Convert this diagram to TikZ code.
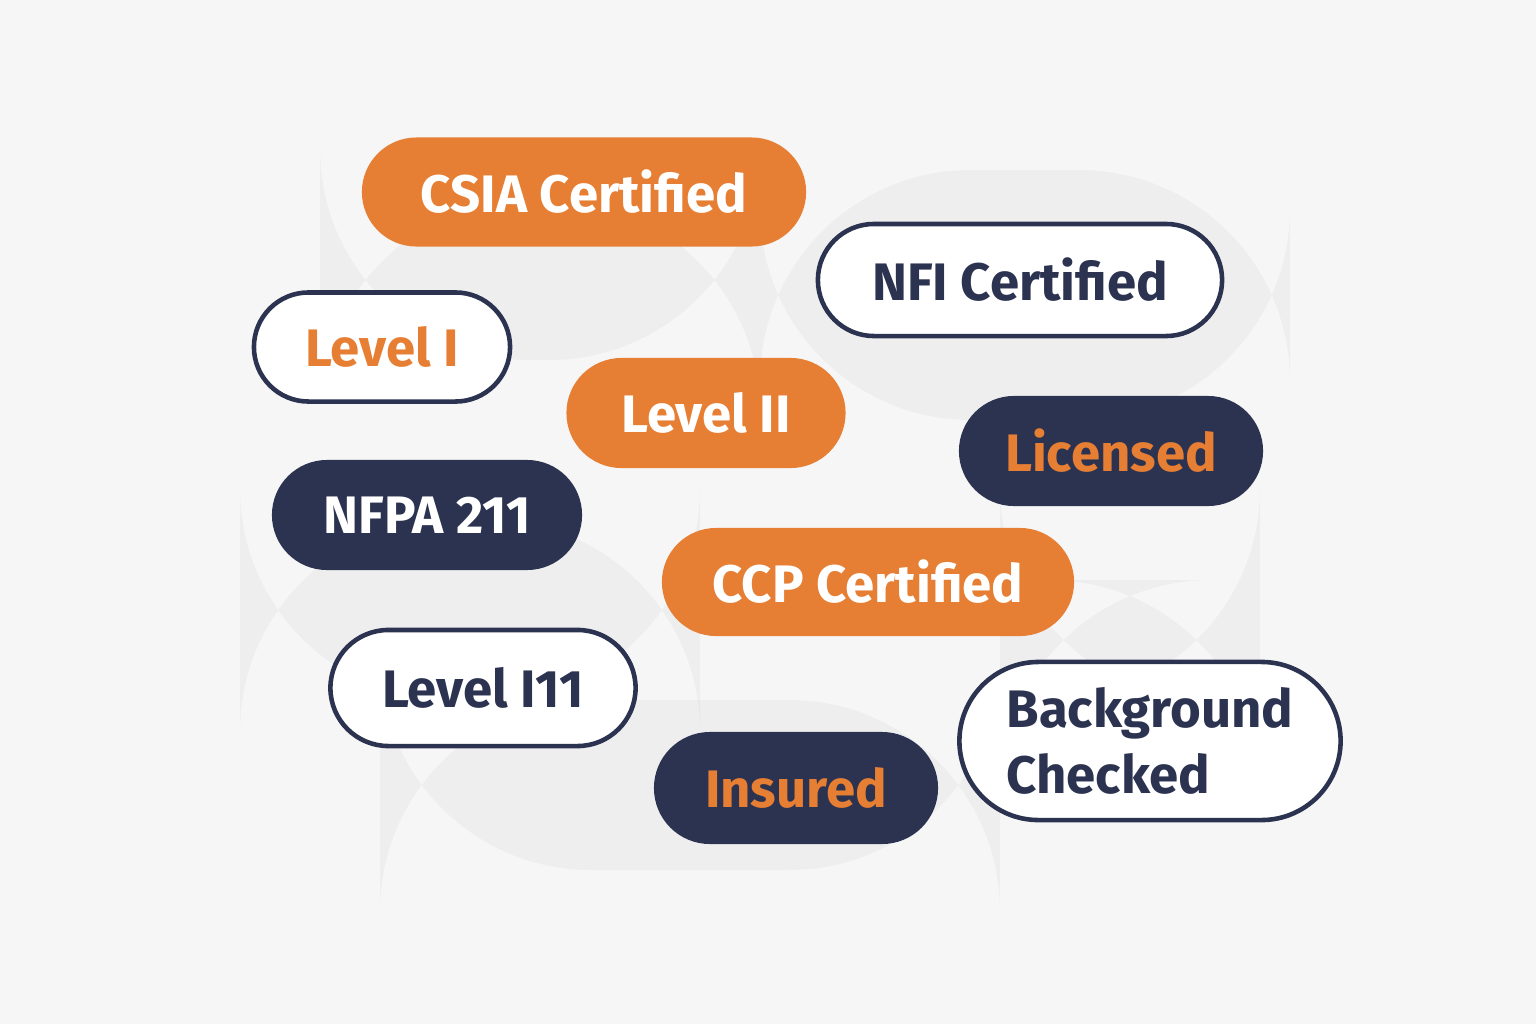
\documentclass[tikz,border=0pt]{standalone}
\usepackage{fontspec}
\setmainfont{Fira Sans}
\usetikzlibrary{shapes.misc}
\definecolor{badgeorange}{HTML}{E67E33}
\definecolor{badgedark}{HTML}{2B3350}
\definecolor{paper}{HTML}{F7F6F6}

\begin{document}
\begin{tikzpicture}[
    x = 0.01cm, y = -0.01cm,
    pill/.style = {rounded rectangle, inner sep = 0pt, font = \fontsize{15}{19}\selectfont\bfseries},
    orangepill/.style = {pill, fill = badgeorange, text = white},
    darkpill/.style = {pill, fill = badgedark},
    openpill/.style = {pill, fill = white, draw = badgedark, line width = 1.3pt, text = badgedark},
    shade/.style = {fill = badgedark, opacity = 0.04}
    ]
    \useasboundingbox[fill = paper] (0,0) rectangle (1536,1024);

    % soft shadows behind the badges
    \fill[shade, rounded corners = 60] (320,200) rectangle (760,360);
    \fill[shade, rounded corners = 60] (760,170) rectangle (1290,420);
    \fill[shade, rounded corners = 60] (240,520) rectangle (700,700);
    \fill[shade, rounded corners = 60] (380,700) rectangle (1000,870);
    \fill[shade, rounded corners = 60] (1000,580) rectangle (1260,700);

    \node (csia) at (584,192) [orangepill, minimum width = 4.44cm, minimum height = 1.09cm] {CSIA Certified};
    \node (nfi) at (1020,280) [openpill, minimum width = 4.04cm, minimum height = 1.12cm] {NFI Certified};
    \node (lvl1) at (382,347) [openpill, text = badgeorange, minimum width = 2.56cm, minimum height = 1.09cm] {Level I};
    \node (lvl2) at (706,413) [orangepill, minimum width = 2.79cm, minimum height = 1.1cm] {Level II};
    \node (licensed) at (1111,451) [darkpill, text = badgeorange, minimum width = 3.04cm, minimum height = 1.1cm] {Licensed};
    \node (nfpa) at (427,515) [darkpill, text = white, minimum width = 3.1cm, minimum height = 1.1cm] {NFPA 211};
    \node (ccp) at (868,582) [orangepill, minimum width = 4.12cm, minimum height = 1.08cm] {CCP Certified};
    \node (lvl3) at (483,688) [openpill, minimum width = 3.05cm, minimum height = 1.16cm] {Level I11};
    \node (insured) at (796,788) [darkpill, text = badgeorange, minimum width = 2.84cm, minimum height = 1.12cm] {Insured};
    \node (background) at (1150,741) [openpill, minimum width = 3.81cm, minimum height = 1.58cm, align = left] {Background\\Checked};
\end{tikzpicture}
\end{document}
